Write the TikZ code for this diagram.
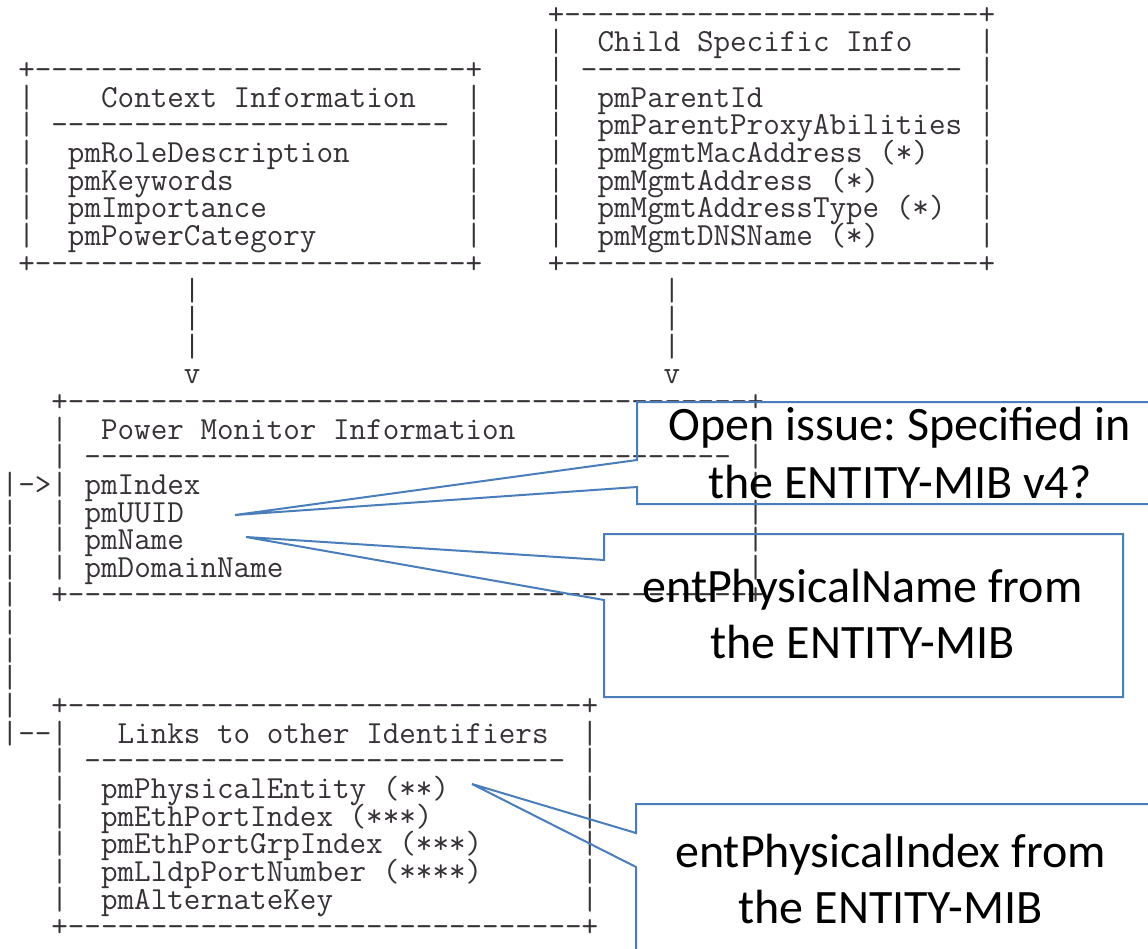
\documentclass[tikz,border=0pt]{standalone}
\usepackage{fontspec}
\newfontfamily\callfont{Carlito}
\definecolor{asccol}{RGB}{55,50,55}
\definecolor{callblue}{RGB}{74,126,187}
\ExplSyntaxOn
\newcommand\dsh[1]{\prg_replicate:nn{#1}{-\kern0pt}}
\newcommand\spc[1]{\prg_replicate:nn{#1}{\nobreakspace}}
\ExplSyntaxOff
\frenchspacing
\tikzset{
  asc/.style={font=\fontsize{16.09pt}{18pt}\selectfont\ttfamily, text=asccol, inner sep=0pt, outer sep=0pt, anchor=base west},
  calltext/.style={font=\fontsize{24pt}{28pt}\selectfont\callfont, text=black, inner sep=0pt, anchor=base},
  callout/.style={draw=callblue, line width=1pt, line join=miter},
}
\newcommand\arow[4]{\node[asc] (#1) at ({1.7+16.55*#3},{24.3+27.65*#2}) {#4};}
\begin{document}
\begin{tikzpicture}[x=0.5pt,y=-0.5pt]
\fill[white] (0,0) rectangle (1148,949);
\useasboundingbox (0,0) rectangle (1148,949);
\clip (0,0) rectangle (1148,949);
% Child Specific Info
\arow{ch0}{0}{33}{+\dsh{25}+}
\arow{ch1}{1}{33}{|\spc{2}Child Specific Info\spc{4}|}
\arow{ch2}{2}{33}{|\spc{1}\dsh{23}\spc{1}|}
\arow{ch3}{3}{33}{|\spc{2}pmParentId\spc{13}|}
\arow{ch4}{4}{33}{|\spc{2}pmParentProxyAbilities\spc{1}|}
\arow{ch5}{5}{33}{|\spc{2}pmMgmtMacAddress (*)\spc{3}|}
\arow{ch6}{6}{33}{|\spc{2}pmMgmtAddress (*)\spc{6}|}
\arow{ch7}{7}{33}{|\spc{2}pmMgmtAddressType (*)\spc{2}|}
\arow{ch8}{8}{33}{|\spc{2}pmMgmtDNSName (*)\spc{6}|}
\arow{ch9}{9}{33}{+\dsh{25}+}
% Context Information
\arow{cx2}{2}{1}{+\dsh{26}+}
\arow{cx3}{3}{1}{|\spc{4}Context Information\spc{3}|}
\arow{cx4}{4}{1}{|\spc{1}\dsh{24}\spc{1}|}
\arow{cx5}{5}{1}{|\spc{2}pmRoleDescription\spc{7}|}
\arow{cx6}{6}{1}{|\spc{2}pmKeywords\spc{14}|}
\arow{cx7}{7}{1}{|\spc{2}pmImportance\spc{12}|}
\arow{cx8}{8}{1}{|\spc{2}pmPowerCategory\spc{9}|}
\arow{cx9}{9}{1}{+\dsh{26}+}
% connectors
\arow{la10}{10}{11}{|}
\arow{la11}{11}{11}{|}
\arow{la12}{12}{11}{|}
\arow{la13}{13}{11}{v}
\arow{ra10}{10}{40}{|}
\arow{ra11}{11}{40}{|}
\arow{ra12}{12}{40}{|}
\arow{ra13}{13}{40}{v}
% Power Monitor Information
\arow{pm14}{14}{3}{+\dsh{41}+}
\arow{pm15}{15}{3}{|\spc{2}Power Monitor Information\spc{14}|}
\arow{pm16}{16}{3}{|\spc{1}\dsh{39}\spc{1}|}
\arow{pm17}{17}{0}{|->|\spc{1}pmIndex\spc{33}|}
\arow{pm18}{18}{0}{|\spc{2}|\spc{1}pmUUID\spc{34}|}
\arow{pm19}{19}{0}{|\spc{2}|\spc{1}pmName\spc{34}|}
\arow{pm20}{20}{0}{|\spc{2}|\spc{1}pmDomainName\spc{28}|}
\arow{pm21}{21}{0}{|\spc{2}+\dsh{41}+}
\arow{lb22}{22}{0}{|}
\arow{lb23}{23}{0}{|}
\arow{lb24}{24}{0}{|}
% Links to other Identifiers
\arow{lk25}{25}{0}{|\spc{2}+\dsh{31}+}
\arow{lk26}{26}{0}{|\dsh{2}|\spc{3}Links to other Identifiers\spc{2}|}
\arow{lk27}{27}{3}{|\spc{1}\dsh{29}\spc{1}|}
\arow{lk28}{28}{3}{|\spc{2}pmPhysicalEntity (**)\spc{8}|}
\arow{lk29}{29}{3}{|\spc{2}pmEthPortIndex (***)\spc{9}|}
\arow{lk30}{30}{3}{|\spc{2}pmEthPortGrpIndex (***)\spc{6}|}
\arow{lk31}{31}{3}{|\spc{2}pmLldpPortNumber (****)\spc{6}|}
\arow{lk32}{32}{3}{|\spc{2}pmAlternateKey\spc{15}|}
\arow{lk33}{33}{3}{+\dsh{31}+}
% callouts
\coordinate (t1) at (235,515);
\coordinate (t2) at (246,537);
\coordinate (t3) at (472,784);
\draw[callout] (637,402) -- (1165,402) -- (1165,504) -- (637,504) -- (637,487) -- (t1) -- (637,460) -- cycle;
\draw[callout] (604,534) -- (1123,534) -- (1123,697) -- (604,697) -- (604,600) -- (t2) -- (604,560) -- cycle;
\draw[callout] (636,804) -- (1152,804) -- (1152,960) -- (636,960) -- (636,867) -- (t3) -- (636,833) -- cycle;
\node[calltext] (c1a) at (900,440) {Open issue: Specified in};
\node[calltext] (c1b) at (900,498) {the ENTITY-MIB v4?};
\node[calltext] (c2a) at (862.5,602) {entPhysicalName from};
\node[calltext] (c2b) at (862.5,658) {the ENTITY-MIB};
\node[calltext] (c3a) at (890.5,867) {entPhysicalIndex from};
\node[calltext] (c3b) at (890.5,923) {the ENTITY-MIB};
\end{tikzpicture}
\end{document}
